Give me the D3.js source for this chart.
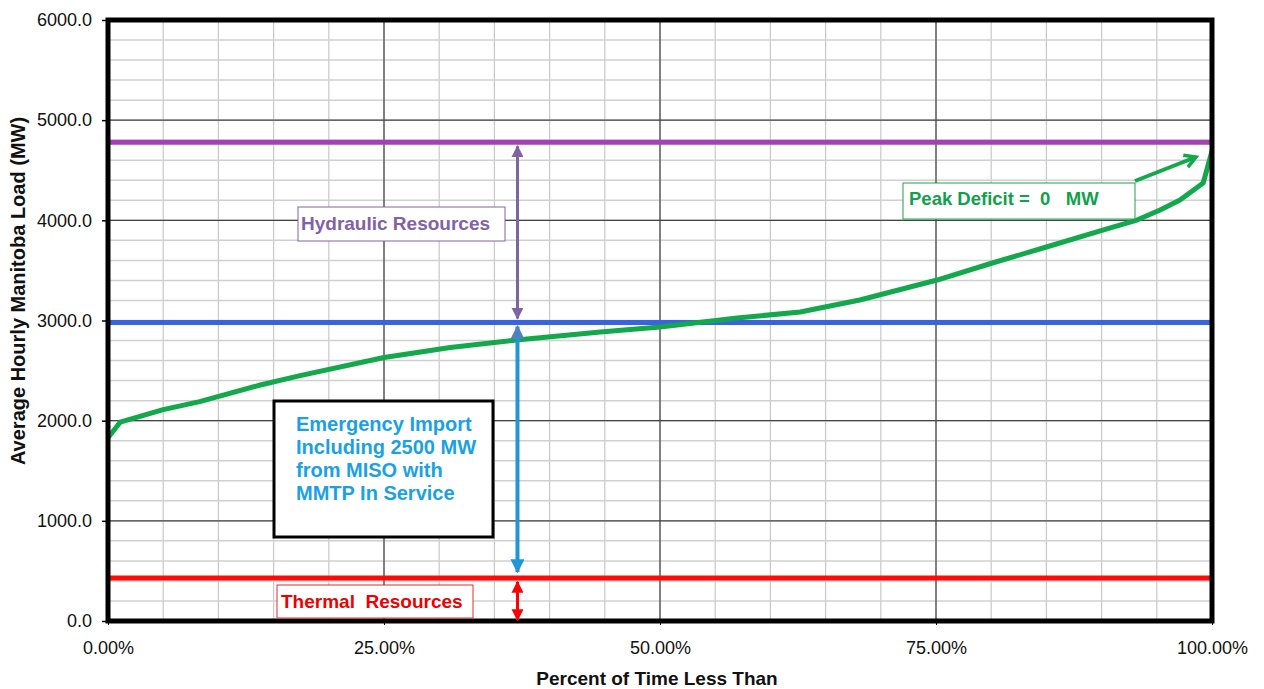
<!DOCTYPE html>
<html><head><meta charset="utf-8">
<script src="https://cdn.jsdelivr.net/npm/d3@7"></script>
<style>body{margin:0;background:#fff;font-family:"Liberation Sans",Arial,sans-serif}</style>
</head><body><svg id="c" width="1264" height="689"></svg>
<script>
// Data
const loadPct = [0, 0.011, 0.05, 0.083, 0.138, 0.174, 0.25, 0.31, 0.37, 0.446, 0.50, 0.57, 0.627, 0.681, 0.751, 0.801, 0.85, 0.901, 0.932, 0.953, 0.971, 0.992, 1.0];
const loadMW  = [1830, 1985, 2110, 2190, 2356, 2450, 2630, 2730, 2805, 2885, 2935, 3025, 3085, 3205, 3404, 3574, 3734, 3903, 4003, 4103, 4203, 4373, 4690];
const hydraulicLevel = 4780;
const importLevel = 2980;
const thermalLevel = 430;
const yTicks = [0, 1000, 2000, 3000, 4000, 5000, 6000];
const xTicks = [0, 0.25, 0.5, 0.75, 1.0];
const arrowPct = 0.37;

const svg = d3.select("#c");
const L = 108, R = 1212, T = 20, B = 621;
const x = d3.scaleLinear().domain([0, 1]).range([L, R]);
const y = d3.scaleLinear().domain([0, 6000]).range([B, T]);

// minor grid
const g = svg.append("g");
g.selectAll(".vx").data(d3.range(0, 1.0001, 0.05)).join("line")
  .attr("x1", d => x(d)).attr("x2", d => x(d)).attr("y1", T).attr("y2", B)
  .attr("stroke", "#c8c8c8").attr("stroke-width", 1.2);
g.selectAll(".hy").data(d3.range(0, 6001, 200)).join("line")
  .attr("x1", L).attr("x2", R).attr("y1", d => y(d)).attr("y2", d => y(d))
  .attr("stroke", "#d0d0d0").attr("stroke-width", 1.5);
// major grid
g.selectAll(".mx").data(xTicks).join("line")
  .attr("x1", d => x(d)).attr("x2", d => x(d)).attr("y1", T).attr("y2", B)
  .attr("stroke", "#222").attr("stroke-width", 1);
g.selectAll(".my").data(yTicks).join("line")
  .attr("x1", L).attr("x2", R).attr("y1", d => y(d)).attr("y2", d => y(d))
  .attr("stroke", "#444").attr("stroke-width", 1.2);

// axes
const yAxis = d3.axisLeft(y).tickValues(yTicks).tickFormat(d3.format(".1f")).tickSize(6).tickPadding(10);
const ya = svg.append("g").attr("transform", `translate(${L},0)`).call(yAxis);
ya.select(".domain").remove();
ya.selectAll("text").attr("font-size", 18).attr("fill", "#111").attr("font-family", "Liberation Sans, Arial");
ya.selectAll("line").attr("stroke", "#000").attr("stroke-width", 1.5);
const xAxis = d3.axisBottom(x).tickValues(xTicks).tickFormat(d3.format(".2%")).tickSize(4).tickPadding(16);
const xa = svg.append("g").attr("transform", `translate(0,${B})`).call(xAxis);
xa.select(".domain").remove();
xa.selectAll("text").attr("font-size", 18).attr("fill", "#111").attr("font-family", "Liberation Sans, Arial");
xa.selectAll("line").attr("stroke", "#000");

// level lines
svg.append("line").attr("x1", L).attr("x2", R).attr("y1", y(hydraulicLevel)).attr("y2", y(hydraulicLevel))
  .attr("stroke", "#a43fb5").attr("stroke-width", 5);
svg.append("line").attr("x1", L).attr("x2", R).attr("y1", y(importLevel)).attr("y2", y(importLevel))
  .attr("stroke", "#3a63e0").attr("stroke-width", 5);
svg.append("line").attr("x1", L).attr("x2", R).attr("y1", y(thermalLevel)).attr("y2", y(thermalLevel))
  .attr("stroke", "#ff0a0a").attr("stroke-width", 5);

// load curve
const line = d3.line().x((d, i) => x(loadPct[i])).y(d => y(d));
svg.append("path").datum(loadMW).attr("d", line).attr("fill", "none")
  .attr("stroke", "#12a84b").attr("stroke-width", 5).attr("stroke-linejoin", "round");

// frame
svg.append("rect").attr("x", L).attr("y", T).attr("width", R - L).attr("height", B - T)
  .attr("fill", "none").attr("stroke", "#000").attr("stroke-width", 5);

// arrow markers
const defs = svg.append("defs");
function mk(id, col, w, h) {
  defs.append("marker").attr("id", id).attr("viewBox", "0 0 10 10").attr("refX", 9).attr("refY", 5)
    .attr("markerWidth", w).attr("markerHeight", h).attr("orient", "auto-start-reverse")
    .attr("markerUnits", "userSpaceOnUse")
    .append("path").attr("d", "M0,0 L10,5 L0,10 Z").attr("fill", col);
}
mk("apur", "#8064a2", 12, 12);
mk("ablue", "#1f97d6", 14, 14);
mk("ablue2", "#4f81bd", 14, 14);
mk("ared", "#ff0000", 12, 12);

const ax = x(arrowPct) + 1;
// hydraulic arrow
svg.append("line").attr("x1", ax).attr("x2", ax).attr("y1", y(hydraulicLevel) + 4).attr("y2", y(importLevel) - 4)
  .attr("stroke", "#8064a2").attr("stroke-width", 3)
  .attr("marker-start", "url(#apur)").attr("marker-end", "url(#apur)");
// import arrow
svg.append("line").attr("x1", ax).attr("x2", ax).attr("y1", y(importLevel) + 4).attr("y2", y(thermalLevel) - 6)
  .attr("stroke", "#1f97d6").attr("stroke-width", 4)
  .attr("marker-start", "url(#ablue2)").attr("marker-end", "url(#ablue)");
// thermal arrow
svg.append("line").attr("x1", ax).attr("x2", ax).attr("y1", y(thermalLevel) + 4).attr("y2", y(0) - 1)
  .attr("stroke", "#ff0000").attr("stroke-width", 3)
  .attr("marker-start", "url(#ared)").attr("marker-end", "url(#ared)");

// annotation boxes
function box(x0, y0, w, h, stroke, sw) {
  svg.append("rect").attr("x", x0).attr("y", y0).attr("width", w).attr("height", h)
    .attr("fill", "#fff").attr("stroke", stroke).attr("stroke-width", sw);
}
box(298, 207, 207, 34, "#8064a2", 1);
svg.append("text").attr("x", 301).attr("y", 230).attr("fill", "#7f62a8").attr("font-size", 19)
  .attr("font-weight", "bold").text("Hydraulic Resources");

box(274, 401, 219, 136, "#000", 3);
const emLines = ["Emergency Import", "Including 2500 MW", "from MISO with", "MMTP In Service"];
svg.append("g").selectAll("text").data(emLines).join("text")
  .attr("x", 296).attr("y", (d, i) => 431 + i * 23).attr("fill", "#1ba1e2")
  .attr("font-size", 20).attr("font-weight", "bold").text(d => d);

box(277, 585, 196, 33, "#e03030", 1);
svg.append("text").attr("x", 281).attr("y", 608).attr("fill", "#ee0000").attr("font-size", 19)
  .attr("font-weight", "bold").style("white-space", "pre").text("Thermal  Resources");

// peak deficit
defs.append("marker").attr("id", "agreen").attr("viewBox", "0 0 10 10").attr("refX", 8).attr("refY", 5)
  .attr("markerWidth", 16).attr("markerHeight", 16).attr("orient", "auto").attr("markerUnits", "userSpaceOnUse")
  .append("path").attr("d", "M1,1 L8,5 L1,9").attr("fill", "none").attr("stroke", "#12a84b").attr("stroke-width", 2.2);
svg.append("line").attr("x1", 1135).attr("y1", 181).attr("x2", 1196).attr("y2", 157)
  .attr("stroke", "#12a84b").attr("stroke-width", 4).attr("marker-end", "url(#agreen)");
box(903, 183, 232, 36, "#12a84b", 1);
svg.append("text").attr("x", 909).attr("y", 205).attr("fill", "#12a04b").attr("font-size", 18.5)
  .attr("font-weight", "bold").style("white-space", "pre").text("Peak Deficit =  0   MW");

// axis titles
svg.append("text").attr("x", 657).attr("y", 685).attr("text-anchor", "middle").attr("font-size", 19)
  .attr("font-weight", "bold").attr("fill", "#111").text("Percent of Time Less Than");
svg.append("text").attr("transform", `translate(25,291) rotate(-90)`).attr("text-anchor", "middle")
  .attr("font-size", 20).attr("font-weight", "bold").attr("fill", "#111").text("Average Hourly Manitoba Load (MW)");
</script></body></html>
